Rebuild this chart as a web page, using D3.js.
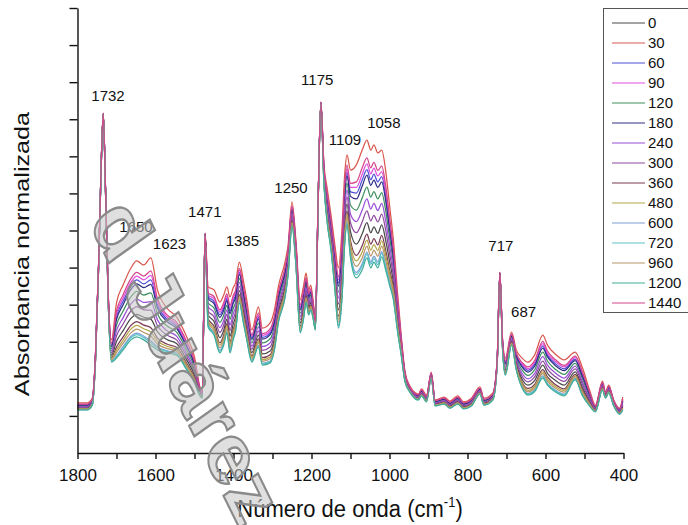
<!DOCTYPE html>
<html>
<head>
<meta charset="utf-8">
<script src="https://cdn.jsdelivr.net/npm/d3@7"></script>
<style>
  body { margin: 0; background: #fff; }
  svg text { font-family: "Liberation Sans", Arial, sans-serif; fill: #111; }
</style>
</head>
<body>
<svg id="chart" width="688" height="525"></svg>
<script>
// FTIR spectra, 1800-400 cm-1, normalised absorbance (x1000) per exposure time
const wavenumbers = [1800,1775,1762,1754,1746,1740,1734,1728,1721,1713,1700,1683,1663,1648,1630,1612,1595,1571,1546,1520,1500,1486,1480,1473,1465,1450,1435,1425,1417,1409,1401,1395,1385,1375,1366,1353,1336,1326,1306,1295,1285,1268,1260,1250,1240,1229,1220,1214,1207,1202,1196,1190,1183,1176,1168,1160,1150,1140,1131,1122,1115,1109,1100,1085,1070,1058,1048,1040,1030,1020,1010,1000,990,980,970,960,948,926,918,905,893,883,860,845,825,810,790,768,758,735,724,717,710,703,687,675,660,645,628,607,595,575,552,524,505,487,472,454,446,438,425,410,402];

const a0 = [122,122,135,251,498,744,913,700,407,263,301,330,363,374,366,361,327,306,295,251,210,161,153,587,372,355,311,331,361,315,347,366,438,387,337,271,318,267,275,310,380,447,504,631,527,351,391,430,392,406,379,340,673,943,739,651,575,476,386,469,618,672,597,563,591,621,594,610,592,615,575,518,461,364,280,199,170,148,160,143,207,132,138,127,139,125,133,165,135,149,241,482,286,224,301,240,199,183,195,237,215,196,183,219,176,140,116,177,153,168,132,110,126];
const a30 = [135,135,148,264,507,750,917,709,426,305,405,453,499,518,507,526,440,391,367,313,259,178,165,593,448,440,407,426,448,421,445,458,515,467,413,332,394,337,351,386,448,515,561,677,574,413,453,485,440,453,413,359,682,947,777,715,642,561,499,601,750,804,763,777,817,844,817,831,809,817,763,669,574,440,318,218,181,159,173,156,218,143,151,140,154,138,148,178,148,162,251,488,305,256,326,278,256,245,264,318,291,267,251,272,229,170,129,194,165,183,143,121,151];
const a60 = [130,130,143,259,504,748,916,706,419,290,368,409,450,467,456,467,399,361,341,291,241,172,161,591,421,409,373,392,417,383,410,425,487,438,386,310,367,312,324,359,424,491,541,661,557,391,431,465,423,436,401,352,679,945,763,692,618,531,458,554,703,757,704,701,736,764,737,752,731,745,696,615,534,413,304,211,177,155,168,151,214,139,146,135,148,133,143,173,143,157,247,486,298,244,317,264,236,223,239,289,264,241,227,253,210,159,124,188,161,178,139,117,142];
const a90 = [131,131,144,260,504,748,916,706,421,293,375,418,460,477,467,479,408,367,346,295,245,173,162,591,426,416,380,399,423,391,417,432,493,444,391,315,372,317,329,364,429,496,545,664,561,395,435,469,426,440,403,354,679,946,766,697,623,537,467,563,712,766,716,716,752,780,753,768,747,759,709,626,542,418,307,213,178,156,169,152,215,140,147,136,150,134,144,174,144,158,248,486,300,247,319,267,240,227,244,295,269,247,232,257,214,161,125,189,162,179,140,118,144];
const a120 = [127,127,140,256,502,747,915,704,415,281,345,383,421,436,426,432,375,343,326,277,231,168,158,590,405,391,352,372,398,361,389,405,471,421,370,297,351,297,308,343,409,476,529,651,547,377,417,454,413,426,393,348,677,945,755,678,604,513,434,526,674,728,668,655,688,717,690,705,685,702,655,583,510,397,296,207,175,153,165,149,212,137,143,132,145,130,140,170,140,154,245,485,294,238,312,256,224,209,224,272,248,226,212,242,199,153,122,184,158,175,137,115,137];
const a180 = [129,129,142,258,503,748,915,705,418,287,360,400,441,456,446,455,391,355,336,286,238,171,160,591,416,403,366,385,411,376,403,418,482,433,381,306,362,307,319,354,419,486,537,657,554,386,426,462,420,433,398,351,678,945,761,687,613,525,450,545,693,747,692,685,720,749,722,736,716,731,682,604,526,408,302,210,176,154,167,151,213,138,145,134,147,132,142,172,142,156,247,486,297,242,315,262,232,218,234,283,259,236,222,249,206,157,124,187,160,177,138,116,140];
const a240 = [125,125,138,254,500,746,914,702,412,275,330,365,402,415,406,408,359,330,315,268,224,166,156,589,394,379,338,358,386,345,375,392,460,410,359,288,340,287,297,332,399,466,520,644,540,368,408,446,406,419,388,345,675,944,750,669,594,500,418,507,655,709,644,624,655,685,658,673,654,673,628,561,493,386,291,204,173,151,163,147,210,135,141,130,143,128,137,168,138,152,244,484,291,233,308,251,215,200,214,260,237,216,202,234,191,148,120,182,156,172,135,113,133];
const a300 = [124,124,137,253,499,745,914,701,410,269,316,348,383,395,386,385,343,318,305,260,217,164,155,588,383,367,325,345,374,330,361,379,449,399,348,280,329,277,286,321,390,457,512,638,534,360,400,438,399,413,384,343,674,943,745,660,585,488,402,488,637,691,621,594,623,653,626,641,623,644,602,539,477,375,286,202,171,149,162,145,208,133,140,129,141,127,135,167,137,151,243,483,289,228,305,246,207,192,205,248,226,206,193,227,184,144,118,180,155,170,133,111,130];
const a360 = [120,120,133,249,497,744,913,699,404,257,286,313,344,354,345,338,310,294,285,242,203,159,151,587,362,342,297,318,349,300,333,352,427,376,327,262,308,257,265,300,370,437,496,625,520,342,382,423,386,399,374,337,672,942,734,641,566,464,369,451,599,653,573,533,559,590,563,578,561,587,548,496,445,354,275,196,168,146,158,142,205,130,136,125,136,123,131,163,133,147,240,482,283,219,298,235,191,174,185,225,205,185,173,212,169,136,115,175,151,166,130,108,123];
const a480 = [119,119,132,248,496,743,913,698,403,254,278,304,334,344,335,326,302,288,279,237,200,158,151,586,356,336,291,311,343,293,326,346,422,370,321,258,302,252,259,294,366,433,492,622,517,337,377,419,382,396,371,336,671,942,731,637,561,458,361,441,589,643,562,518,542,574,547,562,546,572,534,485,437,348,272,195,167,145,157,141,204,129,135,124,135,122,130,162,132,146,239,481,282,217,296,232,187,169,180,219,199,180,169,208,165,133,114,174,151,165,129,107,121];
const a600 = [117,117,130,246,495,742,912,697,400,248,263,287,315,323,315,303,286,276,269,228,193,155,149,585,345,324,277,298,330,278,312,333,411,359,310,249,291,242,248,283,356,423,484,615,510,328,368,411,375,389,366,333,670,941,726,628,552,446,345,422,570,624,538,487,510,542,515,531,515,543,507,464,421,337,267,192,166,144,155,139,203,128,133,122,133,120,128,160,130,144,238,480,279,212,293,227,179,160,170,208,188,170,159,201,158,129,112,171,149,163,128,106,118];
const a720 = [117,117,130,246,494,742,912,696,400,247,260,283,311,319,311,298,283,274,267,227,191,155,149,585,343,322,274,295,328,275,309,330,408,356,308,248,289,240,246,281,354,421,482,614,509,327,367,409,374,388,365,333,669,941,725,626,550,444,342,419,567,621,533,481,504,536,509,524,508,538,502,459,418,335,266,192,165,143,155,139,202,127,133,122,133,120,128,160,130,144,237,480,279,211,292,226,177,159,168,205,186,168,157,199,156,128,112,171,149,163,127,105,117];
const a960 = [118,118,131,247,495,743,913,697,402,251,271,296,324,334,325,315,294,282,274,233,196,156,150,586,351,330,284,305,336,285,319,339,416,364,316,254,297,247,254,289,361,428,488,619,514,333,373,415,379,393,369,335,670,942,728,632,557,452,353,432,580,634,550,503,526,558,531,547,530,558,521,475,429,343,269,194,167,145,156,140,204,129,134,123,134,121,129,161,131,145,238,481,281,215,295,229,183,165,175,214,194,175,164,205,162,131,113,172,150,164,129,107,120];
const a1200 = [116,116,129,245,494,742,912,696,399,245,256,278,305,313,305,291,278,270,264,224,189,154,148,585,340,318,270,291,324,270,305,326,405,353,305,245,286,237,243,278,351,418,480,612,507,324,364,407,372,386,364,332,669,941,723,623,547,440,337,413,561,615,526,472,494,526,499,515,499,529,494,453,413,332,264,191,165,143,154,138,202,127,132,121,132,119,127,159,129,143,237,480,278,210,291,224,175,156,165,202,183,165,154,197,154,127,111,170,148,162,127,105,116];
const a1440 = [132,132,145,261,505,749,916,707,422,296,383,427,470,487,477,491,416,373,352,300,248,174,162,592,432,422,386,406,429,398,424,438,498,450,397,319,378,322,335,370,433,500,549,667,564,400,440,473,430,443,406,355,680,946,769,701,628,543,475,573,722,776,727,731,769,796,769,784,762,774,723,637,550,424,310,214,179,157,170,153,216,141,148,137,151,135,145,175,145,159,249,487,301,249,321,270,244,232,249,301,275,252,236,261,218,164,126,190,162,180,141,119,146];

// exposure times (legend) and the spectrum drawn for each
const timeLabels = ["0","30","60","90","120","180","240","300","360","480","600","720","960","1200","1440"];
const spectra = [a0,a30,a60,a90,a120,a180,a240,a300,a360,a480,a600,a720,a960,a1200,a1440];
const seriesColors = ["#4a4a4a","#d8584e","#4f4fd6","#e04fde","#3f8f5f","#2e2e86","#9a4fd8","#8e4a9e","#7b3b55","#b3a545","#7fa0d6","#5cc3c8","#b8956a","#3fae9a","#d3478a"];

// band assignments annotated above the spectra
const bandLabels = [1732,1650,1623,1471,1385,1250,1175,1109,1058,717,687];

const xTickValues = [1800,1700,1600,1500,1400,1300,1200,1100,1000,900,800,700,600,500,400];
const xTickLabels = ["1800","","1600","","1400","","1200","","1000","","800","","600","","400"];

spectra.forEach((s, i) => {
  if (s.length !== wavenumbers.length) throw new Error("length " + timeLabels[i] + ": " + s.length);
});

const svg = d3.select("#chart");
const x = d3.scaleLinear().domain([1800, 400]).range([77.5, 623.5]);
const y = d3.scaleLinear().domain([0, 1.2]).range([453, 8]);

// spectra
const line = d3.line()
  .x((d, i) => x(wavenumbers[i]))
  .y(d => y(d / 1000))
  .curve(d3.curveMonotoneX);

svg.append("g").selectAll("path")
  .data(spectra)
  .join("path")
  .attr("d", d => line(d))
  .attr("fill", "none")
  .attr("stroke", (d, i) => seriesColors[i])
  .attr("stroke-width", 1.25)
  .attr("stroke-linejoin", "round");

// axes
const xAxis = svg.append("g")
  .attr("transform", "translate(0,453)")
  .call(d3.axisBottom(x)
    .tickValues(xTickValues)
    .tickFormat((d, i) => xTickLabels[i])
    .tickSize(6).tickSizeOuter(0).tickPadding(10));
xAxis.selectAll("text").style("font-size", "17px");

const yAxis = svg.append("g")
  .attr("transform", "translate(77.5,0)")
  .call(d3.axisLeft(y)
    .tickValues(d3.range(1, 13).map(k => k / 10))
    .tickFormat("")
    .tickSize(8).tickSizeOuter(0));

svg.selectAll(".domain, .tick line").attr("stroke", "#111").attr("stroke-width", 1.4);

// axis titles (glyphs drawn slightly tall, like the rest of the lettering)
const xTitle = svg.append("text")
  .attr("transform", "translate(350,517) scale(1,1.12)")
  .attr("text-anchor", "middle")
  .style("font-size", "22px");
xTitle.append("tspan").text("Número de onda (cm");
xTitle.append("tspan").attr("dy", -9).style("font-size", "13px").text("-1");
xTitle.append("tspan").attr("dy", 9).text(")");

svg.append("text")
  .attr("transform", "translate(29,254) rotate(-90) scale(1.2,1)")
  .attr("text-anchor", "middle")
  .style("font-size", "21px")
  .text("Absorbancia normalizada");

// band labels, placed relative to the highest trace at that band
const labelNudge = {1732:[4,-12],1650:[0,-29],1623:[23,-16],1471:[-1,-16],1385:[3,-16],1250:[-1,-9],
                    1175:[-4,-17],1109:[-2,-10],1058:[17,-12],717:[1,-21],687:[12,-15]};
bandLabels.forEach(b => {
  const idx = d3.minIndex(wavenumbers, w => Math.abs(w - b));
  const top = d3.max(spectra, s => s[idx]) / 1000;
  const [dx, dy] = labelNudge[b];
  svg.append("text")
    .attr("x", x(b) + dx).attr("y", y(top) + dy)
    .attr("text-anchor", "middle")
    .style("font-size", "15px")
    .text(b);
});

// legend
const legend = svg.append("g");
legend.append("rect")
  .attr("x", 603.5).attr("y", 8.5).attr("width", 100).attr("height", 304)
  .attr("fill", "#fff").attr("stroke", "#555").attr("stroke-width", 1);
timeLabels.forEach((t, i) => {
  const ly = 23 + i * 20;
  legend.append("line")
    .attr("x1", 612).attr("x2", 645).attr("y1", ly).attr("y2", ly)
    .attr("stroke", seriesColors[i]).attr("stroke-width", 1.2);
  legend.append("text")
    .attr("x", 648).attr("y", ly).attr("dy", "0.36em")
    .style("font-size", "15px")
    .text(t);
});

// watermark lettering across the plot: outlined, lightly tinted
const wm = svg.append("g")
  .attr("transform", "scale(1,1.2) translate(121.6,240.6) rotate(59.4)")
  .style("font-size", "74px")
  .style("font-weight", "bold");
const wmStyle = t => t.style("fill", "#c4c4c4").style("fill-opacity", 0.55)
  .style("stroke", "#8a8a8a").style("stroke-width", 2);
wm.append("text").attr("x", -20).attr("text-anchor", "end").text("d").call(wmStyle);
wm.append("text").attr("x", 0).text("Juárez").call(wmStyle);
wm.append("text").attr("x", 188).attr("y", 121).text("A").call(wmStyle);
</script>
</body>
</html>
